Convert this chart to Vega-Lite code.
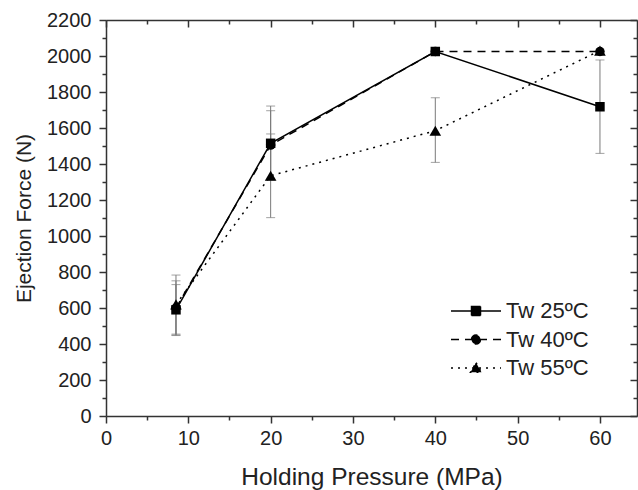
{
  "$schema": "https://vega.github.io/schema/vega-lite/v6.json",
  "width": 531,
  "height": 396,
  "autosize": {"type": "none"},
  "padding": {"left": 106, "top": 20, "right": 1, "bottom": 74},
  "background": "white",
  "config": {
    "view": {"stroke": null},
    "font": "Liberation Sans",
    "axis": {
      "domainColor": "#333333",
      "domainWidth": 1.5,
      "tickColor": "#333333",
      "tickWidth": 1.5,
      "labelColor": "#222222",
      "titleColor": "#222222",
      "labelFont": "Liberation Sans",
      "titleFont": "Liberation Sans",
      "labelFontSize": 20,
      "titleFontWeight": "normal",
      "grid": false,
      "labelOverlap": false,
      "labelFlush": false
    }
  },
  "datasets": {
    "points": [
      {"series": "Tw 25ºC", "temp": 25, "pressure": 8.5, "force": 590},
      {"series": "Tw 25ºC", "temp": 25, "pressure": 20, "force": 1515},
      {"series": "Tw 25ºC", "temp": 25, "pressure": 40, "force": 2025},
      {"series": "Tw 25ºC", "temp": 25, "pressure": 60, "force": 1718},
      {"series": "Tw 40ºC", "temp": 40, "pressure": 8.5, "force": 600},
      {"series": "Tw 40ºC", "temp": 40, "pressure": 20, "force": 1505},
      {"series": "Tw 40ºC", "temp": 40, "pressure": 40, "force": 2025},
      {"series": "Tw 40ºC", "temp": 40, "pressure": 60, "force": 2025},
      {"series": "Tw 55ºC", "temp": 55, "pressure": 8.5, "force": 620},
      {"series": "Tw 55ºC", "temp": 55, "pressure": 20, "force": 1335},
      {"series": "Tw 55ºC", "temp": 55, "pressure": 40, "force": 1585},
      {"series": "Tw 55ºC", "temp": 55, "pressure": 60, "force": 2030}
    ],
    "errors": [
      {"series": "Tw 25ºC", "pressure": 8.5, "lo": 450, "hi": 730},
      {"series": "Tw 40ºC", "pressure": 8.5, "lo": 447, "hi": 751},
      {"series": "Tw 55ºC", "pressure": 8.5, "lo": 455, "hi": 783},
      {"series": "Tw 25ºC", "pressure": 20, "lo": 1310, "hi": 1722},
      {"series": "Tw 40ºC", "pressure": 20, "lo": 1315, "hi": 1696},
      {"series": "Tw 55ºC", "pressure": 20, "lo": 1102, "hi": 1567},
      {"series": "Tw 55ºC", "pressure": 40, "lo": 1409, "hi": 1768},
      {"series": "Tw 25ºC", "pressure": 60, "lo": 1459, "hi": 1978}
    ]
  },
  "layer": [
    {
      "data": {"name": "errors"},
      "mark": {
        "type": "errorbar",
        "ticks": {"size": 9, "color": "#7a7a7a", "thickness": 1},
        "rule": {"color": "#7a7a7a", "strokeWidth": 1}
      },
      "encoding": {
        "x": {"field": "pressure", "type": "quantitative", "axis": null},
        "y": {"field": "lo", "type": "quantitative", "axis": null},
        "y2": {"field": "hi"}
      }
    },
    {
      "data": {"name": "points"},
      "transform": [{"filter": "datum.temp == 25"}],
      "mark": {
        "type": "line",
        "color": "black",
        "strokeWidth": 1.5,
        "point": {"shape": "square", "filled": true, "size": 90, "color": "black"}
      },
      "encoding": {
        "x": {
          "field": "pressure",
          "type": "quantitative",
          "scale": {"domain": [0, 64.5], "nice": false, "zero": false},
          "axis": {
            "orient": "bottom",
            "title": "Holding Pressure (MPa)",
            "titleFontSize": 24.5,
            "values": [0, 5, 10, 15, 20, 25, 30, 35, 40, 45, 50, 55, 60],
            "tickSize": {"condition": {"test": "datum.value % 10 === 0", "value": 7}, "value": 4},
            "labelExpr": "datum.value % 10 === 0 ? datum.label : ''",
            "labelPadding": 5,
            "titlePadding": 17
          }
        },
        "y": {
          "field": "force",
          "type": "quantitative",
          "scale": {"domain": [0, 2200], "nice": false},
          "axis": {
            "orient": "left",
            "title": "Ejection Force (N)",
            "titleFontSize": 21,
            "values": [0, 100, 200, 300, 400, 500, 600, 700, 800, 900, 1000, 1100, 1200, 1300, 1400, 1500, 1600, 1700, 1800, 1900, 2000, 2100, 2200],
            "tickSize": {"condition": {"test": "datum.value % 200 === 0", "value": 7}, "value": 4},
            "labelExpr": "datum.value % 200 === 0 ? datum.label : ''",
            "format": "d",
            "labelPadding": 8,
            "titlePadding": 12
          }
        }
      }
    },
    {
      "data": {"name": "points"},
      "transform": [{"filter": "datum.temp == 40"}],
      "mark": {
        "type": "line",
        "color": "black",
        "strokeWidth": 1.5,
        "strokeDash": [8, 6],
        "point": {"shape": "circle", "filled": true, "size": 90, "color": "black"}
      },
      "encoding": {
        "x": {
          "field": "pressure",
          "type": "quantitative",
          "axis": {
            "orient": "top",
            "title": null,
            "values": [0, 5, 10, 15, 20, 25, 30, 35, 40, 45, 50, 55, 60],
            "tickSize": {"condition": {"test": "datum.value % 10 === 0", "value": -7}, "value": -4},
            "labels": false
          }
        },
        "y": {
          "field": "force",
          "type": "quantitative",
          "axis": {
            "orient": "right",
            "title": null,
            "values": [0, 100, 200, 300, 400, 500, 600, 700, 800, 900, 1000, 1100, 1200, 1300, 1400, 1500, 1600, 1700, 1800, 1900, 2000, 2100, 2200],
            "tickSize": {"condition": {"test": "datum.value % 200 === 0", "value": -7}, "value": -4},
            "labels": false
          }
        }
      }
    },
    {
      "data": {"name": "points"},
      "transform": [{"filter": "datum.temp == 55"}],
      "mark": {
        "type": "line",
        "color": "black",
        "strokeWidth": 1.5,
        "strokeDash": [2, 5],
        "point": {"shape": "triangle-up", "filled": true, "size": 135, "color": "black"}
      },
      "encoding": {
        "x": {"field": "pressure", "type": "quantitative", "axis": null},
        "y": {"field": "force", "type": "quantitative", "axis": null}
      }
    },
    {
      "data": {"name": "points"},
      "transform": [{"filter": "datum.force < 0"}],
      "mark": {"type": "point", "filled": true, "color": "black", "stroke": "black", "strokeWidth": 1.5, "size": 100},
      "encoding": {
        "shape": {
          "field": "series",
          "type": "nominal",
          "scale": {
            "domain": ["Tw 25ºC", "Tw 40ºC", "Tw 55ºC"],
            "range": [
              "M-5,0H5M-0.9,-0.9H0.9V0.9H-0.9Z",
              "M-5,0H5M0.9,0A0.9,0.9,0,1,1,-0.9,0A0.9,0.9,0,1,1,0.9,0Z",
              "M-5,0H5M0,-1.05L1.1,0.85L-1.1,0.85Z"
            ]
          },
          "legend": {
            "orient": "none",
            "legendX": 359,
            "legendY": 280,
            "title": null,
            "labelFont": "Liberation Sans",
            "labelFontSize": 22,
            "labelColor": "#222222",
            "labelOffset": 19,
            "symbolSize": 100,
            "rowPadding": 6.5,
            "padding": 0,
            "encoding": {
              "symbols": {
                "stroke": {"value": "black"},
                "fill": {"value": "black"},
                "strokeWidth": {"value": 1.5},
                "opacity": {"value": 1}
              }
            }
          }
        },
        "strokeDash": {
          "field": "series",
          "type": "nominal",
          "scale": {
            "domain": ["Tw 25ºC", "Tw 40ºC", "Tw 55ºC"],
            "range": [[1, 0], [8, 6], [2, 5]]
          },
          "legend": {
            "orient": "none",
            "legendX": 359,
            "legendY": 280,
            "title": null,
            "labelFont": "Liberation Sans",
            "labelFontSize": 22,
            "labelColor": "#222222",
            "labelOffset": 19,
            "symbolSize": 100,
            "rowPadding": 6.5,
            "padding": 0,
            "encoding": {
              "symbols": {
                "stroke": {"value": "black"},
                "fill": {"value": "black"},
                "strokeWidth": {"value": 1.5},
                "opacity": {"value": 1}
              }
            }
          }
        }
      }
    }
  ]
}
